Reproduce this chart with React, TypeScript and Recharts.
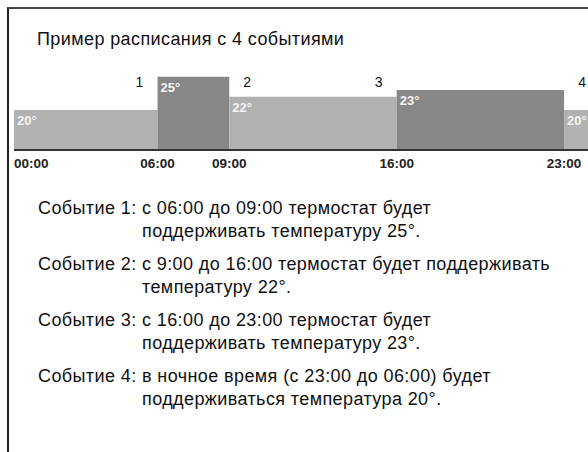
import { Area, ComposedChart, ReferenceLine, XAxis, YAxis } from "recharts";

// Thermostat schedule: 4 events over a day, drawn as stepped blocks.
const BOUNDS = [0, 6, 9, 16, 23, 24]; // hours where a segment starts / ends
const TEMPS = [20, 25, 22, 23, 20]; // temperature of each segment
const TICKS = [0, 6, 9, 16, 23];
const TICK_LABELS = ["00:00", "06:00", "09:00", "16:00", "23:00"];
const EVENT_NUMS = [1, 2, 3, 4];
const EVENT_HOURS = [6, 9, 16, 23];
const EVENT_SIDE = [-1, 1, -1, 1]; // number sits over the lower neighbour

const TITLE = "Пример расписания с 4 событиями";
const EVENT_TEXT = [
  ["с 06:00 до 09:00 термостат будет", "поддерживать температуру 25°."],
  ["с 9:00 до 16:00 термостат будет поддерживать", "температуру 22°."],
  ["с 16:00 до 23:00 термостат будет", "поддерживать температуру 23°."],
  ["в ночное время (с 23:00 до 06:00) будет", "поддерживаться температура 20°."],
];

const LIGHT = "#b1b1b1";
const DARK = "#878787";
const FONT = "'Liberation Sans', Arial, Helvetica, sans-serif";

// one row per boundary, one key per segment (null outside the segment)
const rows = BOUNDS.map((h, i) => {
  const row: Record<string, number | null> = { h };
  TEMPS.forEach((t, j) => {
    row[`s${j}`] = i === j || i === j + 1 ? t : null;
  });
  return row;
});

function Tick({ x, y, payload }: any) {
  const i = TICKS.indexOf(payload.value);
  return (
    <text
      x={x}
      y={y}
      dy="0.71em"
      textAnchor={i === 0 ? "start" : "middle"}
      fontSize={13.5}
      fontWeight="bold"
      fill="#222"
      fontFamily={FONT}
    >
      {TICK_LABELS[i]}
    </text>
  );
}

const segLabel = (j: number) => (p: any) =>
  p.index === j ? (
    <text
      x={p.x + 3}
      y={p.y + 15}
      fontSize={13}
      fontWeight="bold"
      fill="#f4f4f4"
      fontFamily={FONT}
    >
      {TEMPS[j]}°
    </text>
  ) : null;

const eventLabel = (k: number) => (p: any) => {
  const vb = p.viewBox || {};
  const top = Math.min(vb.y, vb.y + (vb.height || 0));
  return (
    <text
      x={vb.x + EVENT_SIDE[k] * 18}
      y={top + 17}
      textAnchor="middle"
      fontSize={14}
      fill="#111"
      fontFamily={FONT}
    >
      {EVENT_NUMS[k]}
    </text>
  );
};

export default function App() {
  return (
    <div
      style={{
        position: "absolute",
        left: 0,
        top: 0,
        width: 588,
        height: 452,
        overflow: "hidden",
        background: "#fff",
        fontFamily: FONT,
        color: "#111",
      }}
    >
      <div
        style={{
          position: "absolute",
          left: 7,
          top: 7,
          width: 600,
          height: 460,
          borderTop: "2px solid #444",
          borderLeft: "2px solid #222",
        }}
      />
      <div
        style={{
          position: "absolute",
          left: 37,
          top: 28,
          fontSize: 18,
          lineHeight: "22px",
          letterSpacing: 0.4,
          whiteSpace: "nowrap",
        }}
      >
        {TITLE}
      </div>
      <div style={{ position: "absolute", left: 14, top: 60 }}>
        <ComposedChart
          width={574}
          height={120}
          data={rows}
          margin={{ top: 10, right: 0, bottom: 0, left: 0 }}
        >
          <XAxis
            dataKey="h"
            type="number"
            domain={[0, 24]}
            ticks={TICKS}
            allowDataOverflow
            height={30}
            tickLine={false}
            axisLine={{ stroke: "#333", strokeWidth: 2 }}
            tick={<Tick />}
            interval={0}
          />
          <YAxis hide type="number" domain={[14, 26]} allowDataOverflow />
          {TEMPS.map((_, j) => (
            <Area
              key={j}
              dataKey={`s${j}`}
              type="linear"
              stroke="none"
              fill={j % 2 ? DARK : LIGHT}
              fillOpacity={1}
              baseValue="dataMin"
              connectNulls={false}
              dot={false}
              activeDot={false}
              label={segLabel(j)}
              isAnimationActive={false}
            />
          ))}
          {EVENT_HOURS.map((h, k) => (
            <ReferenceLine key={k} x={h} stroke="none" label={eventLabel(k)} />
          ))}
        </ComposedChart>
      </div>
      {EVENT_TEXT.map((lines, i) => (
        <div
          key={i}
          style={{
            position: "absolute",
            left: 38,
            top: 197 + i * 56,
            fontSize: 18,
            lineHeight: "23px",
            letterSpacing: 0.4,
            display: "flex",
            whiteSpace: "nowrap",
          }}
        >
          <div style={{ width: 104 }}>Событие {i + 1}:</div>
          <div>
            {lines.map((l, n) => (
              <div key={n}>{l}</div>
            ))}
          </div>
        </div>
      ))}
    </div>
  );
}
